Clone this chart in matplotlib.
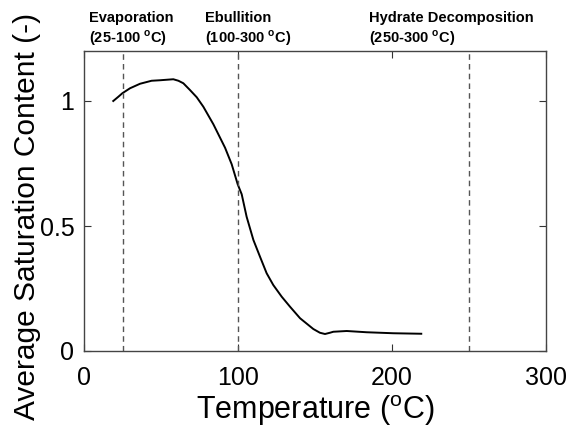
import matplotlib
matplotlib.use("Agg")
import matplotlib.pyplot as plt

plt.rcParams['font.family'] = ['Liberation Sans', 'DejaVu Sans']
plt.rcParams['mathtext.fontset'] = 'custom'
plt.rcParams['mathtext.rm'] = 'Liberation Sans'
plt.rcParams['mathtext.bf'] = 'Liberation Sans:bold'

# data
temperature = [19.0, 22.3, 24.9, 29.9, 36.4, 43.9, 49.4, 58.0, 61.3, 64.5, 68.8,
               73.2, 77.5, 84.0, 91.6, 95.9, 99.8, 102.4, 105.6, 110.0, 114.3,
               118.6, 122.9, 128.4, 133.8, 140.3, 148.9, 153.2, 156.5, 159.7,
               161.9, 170.6, 183.5, 200.9, 219.0]
saturation = [1.0, 1.017, 1.031, 1.051, 1.069, 1.081, 1.083, 1.087, 1.081, 1.071,
              1.044, 1.015, 0.977, 0.907, 0.813, 0.747, 0.667, 0.627, 0.537,
              0.444, 0.377, 0.311, 0.264, 0.217, 0.177, 0.131, 0.088, 0.073,
              0.068, 0.073, 0.077, 0.080, 0.075, 0.071, 0.069]
phase_lines = [25, 100, 250]
phase_names = ['Evaporation', 'Ebullition', 'Hydrate Decomposition']
phase_ranges = [r'(25-100 $^{\mathbf{o}}$C)', r'(100-300 $^{\mathbf{o}}$C)',
                r'(250-300 $^{\mathbf{o}}$C)']
xticks = [0, 100, 200, 300]
yticks = [0, 0.5, 1]
yticklabels = ['0', '0.5', '1']

fig = plt.figure(figsize=(5.71, 4.28), dpi=100)
ax = fig.add_axes([84/571, 1-351/428, 462/571, 300/428])

ax.plot(temperature, saturation, color='black', lw=1.4)
for xv in phase_lines:
    ax.axvline(xv, color='#555555', lw=1.0, ls=(0, (4, 3)))

ax.set_xlim(0, 300)
ax.set_ylim(0, 1.2)
ax.set_xticks(xticks)
ax.set_yticks(yticks)
ax.set_yticklabels(yticklabels)
ax.tick_params(direction='in', length=5, width=0.8, labelsize=18,
               top=True, right=True, colors='#333333', labelcolor='black')
ax.tick_params(axis='x', pad=11)
ax.tick_params(axis='y', pad=7)
for s in ax.spines.values():
    s.set_color('#444444')
    s.set_linewidth(1.0)

ax.set_xlabel(r'Temperature ($^{\mathrm{o}}$C)', fontsize=22, labelpad=2)
ax.set_ylabel('Average Saturation Content (-)', fontsize=21.5)
ax.yaxis.set_label_coords((41-84)/462, (351-216)/300)

name_x = [89, 205, 369]
for nx, name, rng in zip(name_x, phase_names, phase_ranges):
    fig.text(nx/571, 1-22/428, name, fontsize=10.5, fontweight='bold', va='baseline', ha='left')
    fig.text(nx/571, 1-43/428, rng, fontsize=10.5, fontweight='bold', va='baseline', ha='left')

fig.savefig('out.png', dpi=100)
